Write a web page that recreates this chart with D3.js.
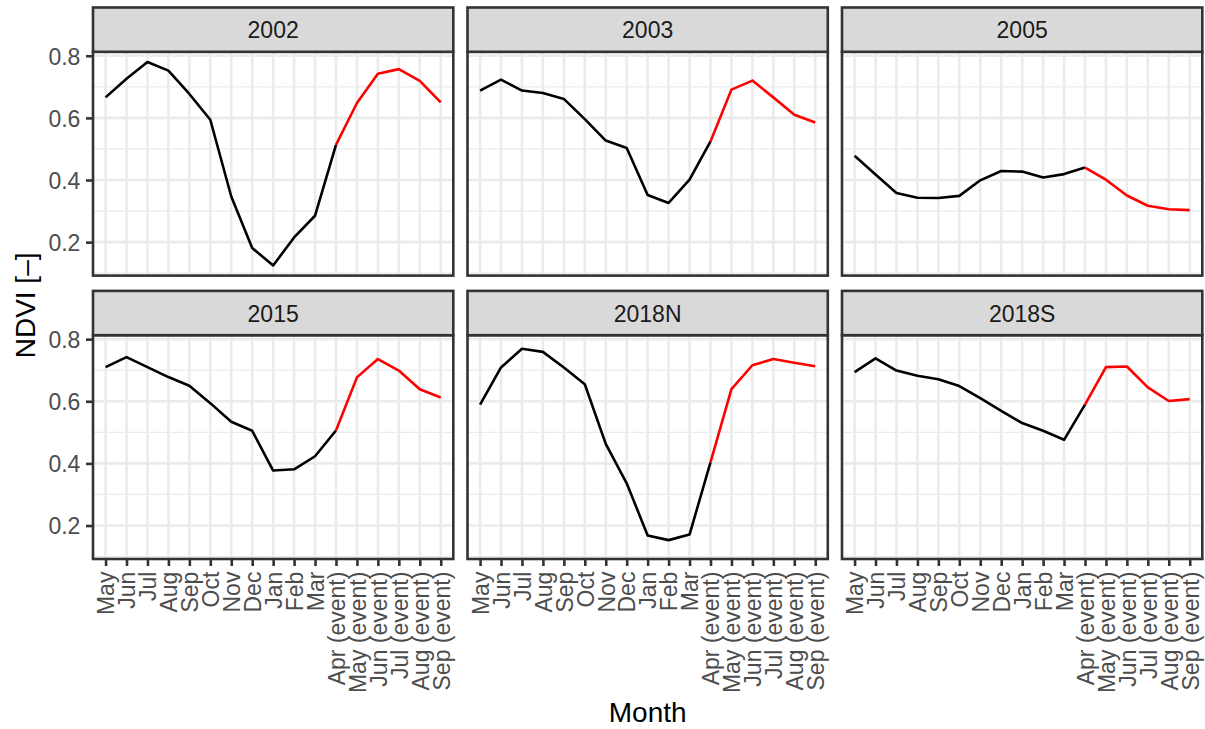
<!DOCTYPE html>
<html>
<head>
<meta charset="utf-8">
<script src="https://cdn.jsdelivr.net/npm/d3@7"></script>
<style>
  html, body { margin: 0; padding: 0; background: #ffffff; }
  svg { display: block; font-family: "Liberation Sans", Arial, sans-serif; }
</style>
</head>
<body>
<div id="chart"></div>
<script>
// NDVI per month, facetted by event year

const months = [
  'May', 'Jun', 'Jul', 'Aug', 'Sep', 'Oct', 'Nov', 'Dec', 'Jan', 'Feb', 'Mar',
  'Apr (event)', 'May (event)', 'Jun (event)', 'Jul (event)', 'Aug (event)', 'Sep (event)'
];
const eventStart = 'Apr (event)';

const facets = ['2002', '2003', '2005', '2015', '2018N', '2018S'];

const ndvi2002 = [0.666, 0.726, 0.780, 0.752, 0.677, 0.594, 0.347, 0.181, 0.125, 0.215, 0.285,
                  0.513, 0.648, 0.742, 0.757, 0.719, 0.650];
const ndvi2003 = [0.688, 0.723, 0.688, 0.680, 0.661, 0.596, 0.527, 0.503, 0.352, 0.326, 0.401,
                  0.524, 0.691, 0.720, 0.666, 0.610, 0.585];
const ndvi2005 = [0.478, 0.418, 0.358, 0.343, 0.342, 0.349, 0.399, 0.429, 0.427, 0.408, 0.419,
                  0.440, 0.401, 0.350, 0.317, 0.306, 0.303];
const ndvi2015 = [0.710, 0.742, 0.710, 0.678, 0.650, 0.594, 0.534, 0.505, 0.377, 0.381, 0.423,
                  0.506, 0.677, 0.736, 0.699, 0.639, 0.612];
const ndvi2018N = [0.589, 0.709, 0.769, 0.759, 0.709, 0.655, 0.463, 0.336, 0.168, 0.153, 0.171,
                   0.403, 0.639, 0.716, 0.736, 0.724, 0.713];
const ndvi2018S = [0.694, 0.738, 0.699, 0.682, 0.671, 0.649, 0.610, 0.569, 0.530, 0.505, 0.476,
                   0.589, 0.710, 0.712, 0.645, 0.601, 0.607];

const yTicks = [0.2, 0.4, 0.6, 0.8];
const yMinorTicks = [0.1, 0.3, 0.5, 0.7];

const seriesByFacet = {
  '2002': ndvi2002, '2003': ndvi2003, '2005': ndvi2005,
  '2015': ndvi2015, '2018N': ndvi2018N, '2018S': ndvi2018S
};

const W = 1205, H = 729;
const layout = {
  left: 93, top: 7.5,
  panelW: 360.3, gapX: 14.2,
  stripH: 44.3, panelH: 223.8, gapY: 15.3,
  nCol: 3
};

const LINE_W = 2.6;
const AXIS_FONT = 23;
const TITLE_FONT = 28;

const svg = d3.select('#chart').append('svg')
  .attr('width', W)
  .attr('height', H)
  .attr('viewBox', `0 0 ${W} ${H}`);

// shared y domain with ggplot's 5% expansion
const allVals = facets.flatMap(f => seriesByFacet[f]);
const [vMin, vMax] = d3.extent(allVals);
const pad = (vMax - vMin) * 0.05;

const x = d3.scalePoint()
  .domain(months)
  .range([0, layout.panelW])
  .padding(0.6);

const y = d3.scaleLinear()
  .domain([vMin - pad, vMax + pad])
  .range([layout.panelH, 0]);

const line = d3.line()
  .x(d => x(d.month))
  .y(d => y(d.value));

const nRow = Math.ceil(facets.length / layout.nCol);
const splitIdx = months.indexOf(eventStart);

facets.forEach((name, i) => {
  const col = i % layout.nCol;
  const row = Math.floor(i / layout.nCol);
  const px = layout.left + col * (layout.panelW + layout.gapX);
  const py = layout.top + row * (layout.stripH + layout.panelH + layout.gapY);

  const g = svg.append('g').attr('transform', `translate(${px},${py + layout.stripH})`);

  // background + grid
  g.append('rect')
    .attr('width', layout.panelW)
    .attr('height', layout.panelH)
    .attr('fill', '#ffffff');

  g.append('g').selectAll('line.minor')
    .data(yMinorTicks.filter(t => y(t) >= 0 && y(t) <= layout.panelH))
    .join('line')
    .attr('class', 'minor')
    .attr('x1', 0).attr('x2', layout.panelW)
    .attr('y1', d => y(d)).attr('y2', d => y(d))
    .attr('stroke', '#EBEBEB')
    .attr('stroke-width', LINE_W / 2);

  g.append('g').selectAll('line.hmajor')
    .data(yTicks)
    .join('line')
    .attr('class', 'hmajor')
    .attr('x1', 0).attr('x2', layout.panelW)
    .attr('y1', d => y(d)).attr('y2', d => y(d))
    .attr('stroke', '#EBEBEB')
    .attr('stroke-width', LINE_W);

  g.append('g').selectAll('line.vmajor')
    .data(months)
    .join('line')
    .attr('class', 'vmajor')
    .attr('x1', d => x(d)).attr('x2', d => x(d))
    .attr('y1', 0).attr('y2', layout.panelH)
    .attr('stroke', '#EBEBEB')
    .attr('stroke-width', LINE_W);

  // data: black before the event, red from the event onward
  const pts = months.map((m, k) => ({ month: m, value: seriesByFacet[name][k] }));

  g.append('path')
    .attr('d', line(pts.slice(0, splitIdx + 1)))
    .attr('fill', 'none')
    .attr('stroke', '#000000')
    .attr('stroke-width', LINE_W)
    .attr('stroke-linejoin', 'round');

  g.append('path')
    .attr('d', line(pts.slice(splitIdx)))
    .attr('fill', 'none')
    .attr('stroke', '#FF0000')
    .attr('stroke-width', LINE_W)
    .attr('stroke-linejoin', 'round');

  g.append('rect')
    .attr('width', layout.panelW)
    .attr('height', layout.panelH)
    .attr('fill', 'none')
    .attr('stroke', '#333333')
    .attr('stroke-width', LINE_W);

  // strip
  const strip = svg.append('g').attr('transform', `translate(${px},${py})`);
  strip.append('rect')
    .attr('width', layout.panelW)
    .attr('height', layout.stripH)
    .attr('fill', '#D9D9D9')
    .attr('stroke', '#333333')
    .attr('stroke-width', LINE_W);
  strip.append('text')
    .attr('x', layout.panelW / 2)
    .attr('y', layout.stripH / 2)
    .attr('dy', '0.38em')
    .attr('text-anchor', 'middle')
    .attr('font-size', AXIS_FONT)
    .attr('fill', '#1A1A1A')
    .text(name);

  // y axis on first column
  if (col === 0) {
    g.append('g')
      .call(d3.axisLeft(y).tickValues(yTicks).tickSize(7).tickPadding(5.6).tickFormat(d3.format('.1f')))
      .call(a => a.select('.domain').remove())
      .call(a => a.selectAll('.tick line').attr('stroke', '#333333').attr('stroke-width', LINE_W))
      .call(a => a.selectAll('.tick text')
        .attr('fill', '#4D4D4D')
        .attr('font-size', AXIS_FONT)
        .attr('font-family', '"Liberation Sans", Arial, sans-serif')
        .attr('dy', '0.36em'));
  }

  // x axis on bottom row
  if (row === nRow - 1) {
    g.append('g')
      .attr('transform', `translate(0,${layout.panelH})`)
      .call(d3.axisBottom(x).tickSize(7).tickPadding(0))
      .call(a => a.select('.domain').remove())
      .call(a => a.selectAll('.tick line').attr('stroke', '#333333').attr('stroke-width', LINE_W))
      .call(a => a.selectAll('.tick text')
        .attr('fill', '#4D4D4D')
        .attr('font-size', AXIS_FONT)
        .attr('font-family', '"Liberation Sans", Arial, sans-serif')
        .attr('text-anchor', 'end')
        .attr('transform', 'translate(0,12.6) rotate(-90)')
        .attr('x', 0)
        .attr('y', 0)
        .attr('dy', '0.36em'));
  }
});

// axis titles
const panelsLeft = layout.left;
const panelsRight = layout.left + layout.nCol * layout.panelW + (layout.nCol - 1) * layout.gapX;
const firstPanelTop = layout.top + layout.stripH;
const lastPanelBottom = layout.top + nRow * (layout.stripH + layout.panelH) + (nRow - 1) * layout.gapY;

svg.append('text')
  .attr('x', (panelsLeft + panelsRight) / 2)
  .attr('y', 722)
  .attr('text-anchor', 'middle')
  .attr('font-size', TITLE_FONT)
  .attr('fill', '#000000')
  .text('Month');

svg.append('text')
  .attr('transform', `translate(35,${(firstPanelTop + lastPanelBottom) / 2}) rotate(-90)`)
  .attr('text-anchor', 'middle')
  .attr('font-size', TITLE_FONT)
  .attr('fill', '#000000')
  .text('NDVI [–]');
</script>
</body>
</html>
